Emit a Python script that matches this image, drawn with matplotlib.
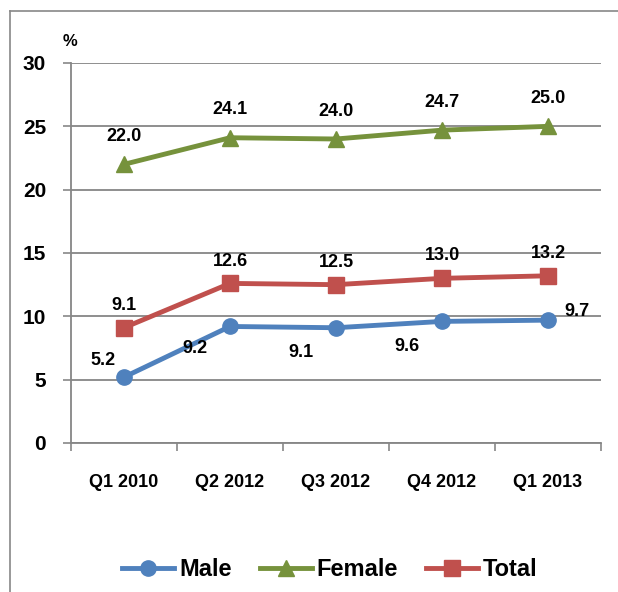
import numpy as np
import matplotlib.pyplot as plt
from matplotlib.lines import Line2D

# ── Data ─────────────────────────────────────────────────────
quarters = ["Q1 2010", "Q2 2012", "Q3 2012", "Q4 2012", "Q1 2013"]
male = [5.2, 9.2, 9.1, 9.6, 9.7]
female = [22.0, 24.1, 24.0, 24.7, 25.0]
total = [9.1, 12.6, 12.5, 13.0, 13.2]

c_male = "#4F81BD"
c_female = "#76923C"
c_total = "#C0504D"

plt.rcParams['font.family'] = ['Liberation Sans Narrow', 'Liberation Sans', 'DejaVu Sans']
plt.rcParams['font.weight'] = 'bold'

fig = plt.figure(figsize=(6.18, 5.92), dpi=100)
ax = fig.add_axes([71/618, 1 - 443/592, 530/618, 380/592])

x = np.arange(len(quarters))
ax.plot(x, male, color=c_male, lw=3.5, marker='o', ms=11, zorder=3)
ax.plot(x, female, color=c_female, lw=3.5, marker='^', ms=12, zorder=3)
ax.plot(x, total, color=c_total, lw=3.5, marker='s', ms=11, zorder=3)

# value labels
for i, v in enumerate(female):
    ax.annotate(f"{v:.1f}", (x[i], v), xytext=(0, 14), textcoords='offset points',
                ha='center', va='bottom', fontsize=13, fontweight='bold')
for i, v in enumerate(total):
    ax.annotate(f"{v:.1f}", (x[i], v), xytext=(0, 10), textcoords='offset points',
                ha='center', va='bottom', fontsize=13, fontweight='bold')
male_offsets = [(-6, 6), (-16, -10), (-16, -12), (-16, -12), (12, 0)]
for i, v in enumerate(male):
    dx, dy = male_offsets[i]
    ha = 'right' if dx < 0 else 'left'
    va = 'bottom' if dy > 0 else ('top' if dy < 0 else 'bottom')
    ax.annotate(f"{v:.1f}", (x[i], v), xytext=(dx, dy), textcoords='offset points',
                ha=ha, va=va, fontsize=13, fontweight='bold')

ax.set_xlim(-0.5, len(quarters) - 0.5)
ax.set_ylim(0, 30)
ax.set_yticks(range(0, 31, 5))
ax.set_xticks(x)
ax.set_xticklabels(quarters, fontsize=13, fontweight='bold')
ax.tick_params(axis='x', length=0, pad=22)
ax.set_xticks(np.arange(-0.5, len(quarters)), minor=True)
ax.tick_params(axis='x', which='minor', length=6, color='#888888', width=1.2)
ax.tick_params(axis='y', labelsize=15, length=6, color='#888888', width=1.2, pad=12)
for lab in ax.get_yticklabels():
    lab.set_fontweight('bold')

ax.grid(axis='y', color='#868686', lw=1.3)
ax.set_axisbelow(True)
for s in ['top', 'right']:
    ax.spines[s].set_visible(False)
ax.spines['left'].set_color('#868686')
ax.spines['bottom'].set_color('#868686')
ax.spines['left'].set_linewidth(1.3)
ax.spines['bottom'].set_linewidth(1.3)

fig.text(70/618, 1 - 42/592, "%", fontsize=12, fontweight='bold', ha='center', va='center')

# outer chart frame (left and top edges visible)
fig.add_artist(Line2D([10/618, 10/618], [0, 1 - 11/592], color='#888888', lw=1.2))
fig.add_artist(Line2D([10/618, 1], [1 - 11/592, 1 - 11/592], color='#888888', lw=1.2))

handles = [
    Line2D([], [], color=c_male, lw=3.5, marker='o', ms=11),
    Line2D([], [], color=c_female, lw=3.5, marker='^', ms=12),
    Line2D([], [], color=c_total, lw=3.5, marker='s', ms=11),
]
fig.legend(handles, ["Male", "Female", "Total"], loc='center', bbox_to_anchor=(330/618, 1 - 570/592),
           ncol=3, frameon=False, handlelength=2.2, columnspacing=1.2, handletextpad=0.2,
           prop={'weight': 'bold', 'size': 17})

fig.savefig("out.png", dpi=100)
